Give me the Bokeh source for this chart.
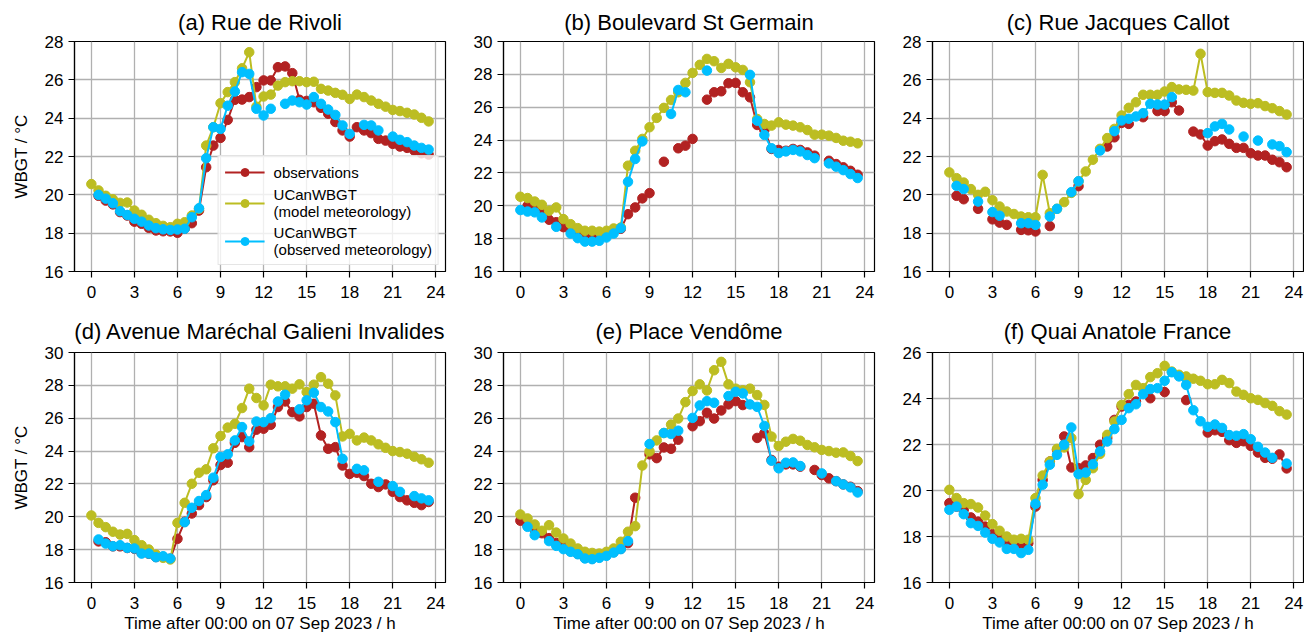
import numpy as np
from bokeh.plotting import figure
from bokeh.layouts import gridplot
from bokeh.models import Range1d, FixedTicker
from bokeh.embed import file_html
from bokeh.resources import INLINE

nan = np.nan

# half-hourly time axis, hours after 00:00 on 07 Sep 2023
hours = np.arange(48) * 0.5

# (a) Rue de Rivoli
rivoli_obs = [nan, 19.95, 19.7, 19.5, 19.1, 18.92, 18.6, 18.49, 18.28, 18.14, 18.1, 18.09,
              18.02, 18.23, 18.52, 19.18, 21.44, 22.57, 22.97, 23.91, 24.96, 24.97, 25.1, 25.62,
              25.97, 25.97, 26.66, 26.7, 26.35, 24.96, 24.9, 24.83, 24.54, 24.23, 23.8, 23.36,
              23.04, 23.53, 23.36, 23.22, 22.92, 22.83, 22.66, 22.52, 22.45, 22.31, 22.17, 22.1]
rivoli_model = [20.56, 20.23, 19.95, 19.77, 19.58, 19.6, 19.18, 18.96, 18.7, 18.52, 18.38, 18.31,
                18.49, 18.57, 18.92, 19.27, 22.57, 23.53, 24.78, 25.36, 25.88, 26.6, 27.44, 24.6,
                25.13, 25.23, 25.7, 25.88, 25.93, 25.93, 25.88, 25.9, 25.53, 25.44, 25.32, 25.22,
                25.0, 25.23, 25.1, 24.92, 24.75, 24.6, 24.43, 24.37, 24.28, 24.19, 24.02, 23.83]
rivoli_ucan = [nan, 20.0, 19.8, 19.56, 19.15, 18.95, 18.75, 18.6, 18.4, 18.26, 18.2, 18.17,
               18.19, 18.23, 18.83, 19.3, 21.91, 23.53, 23.44, 24.65, 25.39, 26.4, 26.31, 24.49,
               24.14, 24.49, nan, 24.75, 24.92, 24.83, 24.71, 25.1, 24.75, 24.45, 24.17, 23.62,
               23.18, nan, 23.65, 23.62, 23.36, nan, 23.04, 22.87, 22.75, 22.57, 22.45, 22.36]

# (b) Boulevard St Germain
germain_obs = [nan, 20.0, 19.85, 19.6, 19.15, 19.0, 18.7, 18.5, 18.35, 18.25, 18.2, 18.1,
               18.3, 18.45, 18.6, 19.49, 19.9, 20.45, 20.77, nan, 22.68, nan, 23.5, 23.66,
               24.07, nan, 26.46, 26.91, 26.97, 27.46, 27.48, 26.91, 26.6, 24.92, 24.61, 23.46,
               23.4, 23.35, 23.46, 23.4, 23.25, 23.05, nan, 22.74, 22.54, 22.34, 22.13, 21.89]
germain_model = [20.55, 20.47, 20.26, 20.06, 19.7, 19.9, 19.19, 18.88, 18.64, 18.48, 18.48, 18.43,
                 18.48, 18.62, 18.68, 22.44, 23.35, 24.07, 24.78, 25.35, 25.96, 26.44, 26.91, 27.48,
                 28.09, 28.58, 28.94, 28.8, 28.39, 28.64, 28.43, 28.27, 27.52, 25.28, 24.98, 24.88,
                 25.08, 24.94, 24.88, 24.78, 24.61, 24.33, 24.33, 24.27, 24.13, 23.96, 23.9, 23.8]
germain_ucan = [19.74, 19.65, 19.6, 19.29, nan, 18.72, nan, 18.31, 18.03, 17.82, 17.82, 17.87,
                18.07, 18.31, 18.64, 21.46, 22.85, 23.92, nan, nan, nan, 25.59, 27.05, 26.91,
                nan, nan, 28.23, nan, nan, nan, nan, nan, 27.97, 25.18, 24.31, 23.5,
                23.21, 23.31, 23.4, 23.31, 23.09, 22.9, nan, 22.58, 22.38, 22.17, 21.93, 21.69]

# (c) Rue Jacques Callot
callot_obs = [nan, 19.95, 19.77, nan, 19.27, nan, 18.72, 18.55, 18.43, nan, 18.17, 18.15,
              18.09, nan, 18.37, nan, nan, nan, 20.45, nan, nan, nan, 22.52, 23.0,
              23.75, 23.7, nan, 24.05, nan, 24.37, 24.37, 24.83, 24.4, nan, 23.3, 23.15,
              22.57, 22.8, 22.89, 22.66, 22.45, 22.45, 22.17, 22.05, 22.05, 21.83, 21.7, 21.44]
callot_model = [21.17, 20.87, 20.64, 20.3, 20.0, 20.16, 19.72, 19.39, 19.13, 19.0, 18.87, 18.83,
                18.83, 21.04, 19.04, 19.27, 19.62, 20.1, 20.7, 21.22, 21.83, 22.4, 22.96, 23.44,
                24.14, 24.54, 24.83, 25.22, 25.22, 25.22, 25.39, 25.62, 25.5, 25.48, 25.44, 27.36,
                25.36, 25.32, 25.32, 25.18, 24.92, 24.8, 24.75, 24.78, 24.63, 24.52, 24.37, 24.19]
callot_ucan = [nan, 20.47, 20.3, nan, 19.65, nan, 19.1, 18.91, nan, nan, 18.52, 18.52,
               18.43, nan, 18.87, 19.27, nan, 20.14, 20.71, nan, nan, 22.31, nan, 23.32,
               23.88, 23.97, 24.09, 24.26, 24.75, 24.71, 24.71, 25.1, nan, nan, nan, nan,
               23.22, 23.57, 23.7, 23.41, nan, 23.04, nan, 22.83, nan, 22.63, 22.54, 22.23]

# (d) Avenue Maréchal Galieni Invalides
galieni_obs = [nan, 18.5, 18.45, 18.2, 18.2, 18.1, 18.05, 17.8, 17.75, 17.55, 17.55, 17.45,
               18.66, 19.7, 20.2, 20.71, 21.2, 22.22, 23.15, 23.29, 24.5, 24.85, 24.24, 25.3,
               25.36, 25.6, 26.68, 27.02, 26.37, 26.11, 26.68, 26.88, 24.95, 24.14, 24.24, 23.12,
               22.61, 22.68, 22.48, 22.01, 21.81, 21.97, 21.52, 21.2, 21.0, 20.85, 20.71, 20.9]
galieni_model = [20.08, 19.63, 19.37, 19.09, 18.92, 18.96, 18.58, 18.27, 18.01, 17.7, 17.5, 17.4,
                 19.63, 20.85, 22.01, 22.68, 22.89, 24.17, 24.92, 25.43, 25.66, 26.62, 27.8, 27.23,
                 26.78, 28.04, 27.94, 27.94, 27.8, 28.06, 27.59, 28.04, 28.5, 28.1, 27.39, 24.89,
                 25.05, 24.65, 24.82, 24.65, 24.41, 24.2, 24.0, 23.94, 23.84, 23.66, 23.5, 23.29]
galieni_ucan = [nan, 18.62, 18.37, 18.21, 18.27, 18.11, 18.07, 17.76, 17.76, 17.54, 17.6, 17.46,
                nan, 19.67, 20.55, 20.96, 21.32, 22.38, 23.64, 23.8, 24.65, 25.46, 24.59, 25.8,
                25.76, 26.0, 27.02, 27.43, nan, 26.54, 27.09, 27.55, 26.68, 26.41, 25.76, 23.53,
                nan, 22.92, 22.83, nan, 22.13, nan, 21.87, 21.52, nan, 21.26, 21.12, 21.0]

# (e) Place Vendôme
vendome_obs = [19.76, 19.45, 19.2, 19.0, 18.7, 18.4, 18.2, 17.9, 17.75, 17.5, 17.45, 17.55,
               17.7, 17.85, 18.05, 18.4, 21.16, nan, 23.8, 23.57, 24.22, 24.14, 24.69, nan,
               25.51, 25.82, 26.33, 25.98, 26.47, 26.84, 27.04, 26.8, nan, 24.8, 25.08, 23.46,
               23.05, 23.19, 23.19, 23.05, nan, 22.85, 22.54, 22.34, 22.17, 21.97, 21.83, 21.56]
vendome_model = [20.14, 19.9, 19.53, 19.15, 19.49, 19.04, 18.68, 18.37, 18.07, 17.87, 17.8, 17.76,
                 17.87, 18.07, 18.48, 19.09, 19.43, 23.12, 23.98, 24.65, 25.1, 25.61, 25.98, 26.98,
                 27.65, 28.06, 27.69, 28.92, 29.43, 28.06, 27.8, 27.7, 27.8, 27.41, 26.81, 24.88,
                 24.31, 24.57, 24.74, 24.63, 24.37, 24.23, 24.07, 24.0, 23.9, 23.92, 23.7, 23.39]
vendome_ucan = [nan, 19.39, 18.88, nan, 18.52, 18.23, 18.03, 17.87, 17.72, 17.46, 17.42, 17.5,
                17.62, 17.82, 18.03, 18.52, nan, nan, 24.43, nan, 25.1, 25.04, 25.24, nan,
                26.02, 26.78, 27.04, 26.94, nan, 27.35, 27.61, 27.51, 26.84, 26.69, 25.53, 23.41,
                22.95, 23.29, 23.31, 23.09, nan, nan, 22.64, nan, 22.17, 21.97, 21.79, 21.48]

# (f) Quai Anatole France
anatole_obs = [19.45, 19.3, 19.16, 18.83, 18.65, 18.43, 18.1, 17.93, 17.81, 17.78, 17.67, 17.71,
               19.3, 20.46, 21.26, 21.77, 22.35, 21.0, 20.97, 21.09, 21.41, 21.99, 22.28, 23.07,
               23.65, 23.72, 23.87, nan, 24.01, nan, 24.28, nan, nan, 23.93, nan, nan,
               22.52, 22.62, 22.55, 22.19, 22.07, 22.14, 21.94, 21.65, 21.42, 21.38, 21.57, 20.96]
anatole_model = [20.03, 19.67, 19.45, 19.41, 19.26, 18.91, 18.54, 18.25, 18.0, 17.86, 17.9, 17.86,
                 19.67, 20.65, 21.26, 21.81, 21.87, 22.28, 19.84, 20.46, 20.97, 21.59, 22.42, 23.0,
                 23.72, 24.19, 24.59, 24.45, 24.93, 25.1, 25.42, 25.17, 25.03, 24.96, 24.86, 24.77,
                 24.62, 24.62, 24.81, 24.67, 24.3, 24.16, 24.01, 23.94, 23.8, 23.68, 23.45, 23.3]
anatole_ucan = [19.16, 19.3, 18.97, 18.58, 18.46, 18.17, 17.9, 17.74, 17.46, 17.46, 17.28, 17.42,
                19.42, 20.25, 21.12, 21.55, 21.99, 22.74, 20.71, 20.78, 21.14, 21.7, 22.13, 22.67,
                23.07, 23.58, 23.75, 24.19, 24.41, 24.45, 24.77, 25.14, 24.96, 24.59, 23.49, 23.01,
                22.77, 22.87, 22.72, 22.41, 22.38, 22.45, 22.23, 21.9, 21.65, 21.42, nan, 21.17]

titles = ["(a) Rue de Rivoli", "(b) Boulevard St Germain", "(c) Rue Jacques Callot",
          "(d) Avenue Maréchal Galieni Invalides", "(e) Place Vendôme", "(f) Quai Anatole France"]
y_tops = [28, 30, 28, 30, 30, 26]
x_ticks = [0, 3, 6, 9, 12, 15, 18, 21, 24]
series_labels = ["observations", "UCanWBGT\n(model meteorology)", "UCanWBGT\n(observed meteorology)"]
x_label = "Time after 00:00 on 07 Sep 2023 / h"
y_label = "WBGT / °C"

FONT = "Liberation Sans"
COLORS = ["#b22222", "#bcbd22", "#00bfff"]

panels_data = [
    (rivoli_obs, rivoli_model, rivoli_ucan),
    (germain_obs, germain_model, germain_ucan),
    (callot_obs, callot_model, callot_ucan),
    (galieni_obs, galieni_model, galieni_ucan),
    (vendome_obs, vendome_model, vendome_ucan),
    (anatole_obs, anatole_model, anatole_ucan),
]

# outer borders around each plotting frame, per grid column / row
BORDER_LEFT = [74, 33, 33]
BORDER_RIGHT = [25, 25, 1]
BORDER_TOP = [41, 47]
BORDER_BOTTOM = [34, 56]
TITLE_STANDOFF = [14, 18]


def make_panel(idx):
    col = idx % 3
    rw = idx // 3
    p = figure(frame_width=371, frame_height=230,
               min_border_left=BORDER_LEFT[col], min_border_right=BORDER_RIGHT[col],
               min_border_top=BORDER_TOP[rw], min_border_bottom=BORDER_BOTTOM[rw],
               x_range=Range1d(-1.175, 24.675), y_range=Range1d(16, y_tops[idx]),
               output_backend="svg", toolbar_location=None)
    p.title.text = titles[idx]
    p.title.align = "center"
    p.title.text_font = FONT
    p.title.text_font_style = "normal"
    p.title.text_font_size = "22px"
    p.title.text_color = "black"
    p.title.standoff = TITLE_STANDOFF[rw]

    p.xaxis.ticker = FixedTicker(ticks=x_ticks)
    p.yaxis.ticker = FixedTicker(ticks=list(range(16, y_tops[idx] + 1, 2)))
    for ax in (p.xaxis[0], p.yaxis[0]):
        ax.major_label_text_font = FONT
        ax.major_label_text_font_size = "17px"
        ax.major_label_text_color = "black"
        ax.major_tick_out = 6
        ax.major_tick_in = 0
        ax.major_tick_line_width = 1.2
        ax.minor_tick_line_color = None
        ax.axis_line_color = "black"
        ax.axis_line_width = 1.2
        ax.major_tick_line_color = "black"
        ax.axis_label_text_font = FONT
        ax.axis_label_text_font_size = "17px"
        ax.axis_label_text_font_style = "normal"
        ax.axis_label_text_color = "black"
    p.xaxis.major_label_standoff = 8
    p.yaxis.major_label_standoff = 5
    if col == 0:
        p.yaxis.axis_label = y_label
        p.yaxis.axis_label_standoff = 11
    if rw == 1:
        p.xaxis.axis_label = x_label
        p.xaxis.axis_label_standoff = 2

    p.grid.grid_line_color = "#b0b0b0"
    p.grid.grid_line_width = 1.3
    p.outline_line_color = "black"
    p.outline_line_width = 1.2
    p.outline_line_alpha = 1

    for values, color, label in zip(panels_data[idx], COLORS, series_labels):
        y = np.array(values, dtype=float)
        kw = {"legend_label": label} if idx == 0 else {}
        p.line(hours, y, line_color=color, line_width=2, **kw)
        p.scatter(hours, y, size=9.5, fill_color=color, line_color=color, **kw)

    if idx == 0:
        lg = p.legend[0]
        lg.location = "bottom_right"
        lg.margin = 6
        lg.label_text_font = FONT
        lg.label_text_font_size = "15px"
        lg.label_text_color = "black"
        lg.border_line_color = "#cccccc"
        lg.border_line_width = 1
        lg.background_fill_alpha = 0.8
        lg.glyph_width = 40
        lg.spacing = 4
        lg.padding = 6
        lg.label_standoff = 9
    return p


figs = [make_panel(i) for i in range(6)]
grid = gridplot([figs[:3], figs[3:]], toolbar_location=None)

open("out.html", "w").write(file_html(grid, INLINE))
